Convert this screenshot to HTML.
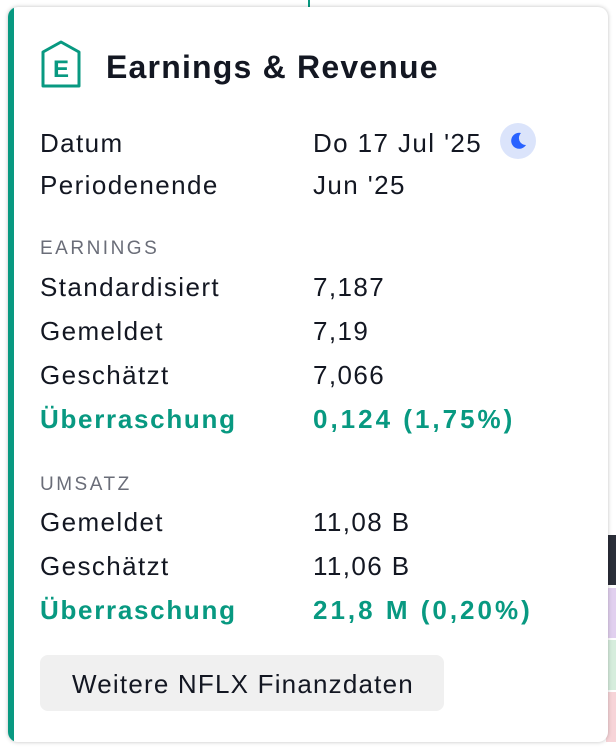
<!DOCTYPE html>
<html><head><style>
body{margin:0;width:616px;height:750px;background:#f0f3fa;position:relative;overflow:hidden;font-family:"Liberation Sans",sans-serif;}
.bg{position:absolute;left:0;top:0;width:616px;height:750px;background:#fff;}
.card{position:absolute;left:8px;top:7px;width:600px;height:735px;background:#fff;border-radius:10px;box-shadow:0 0 4px rgba(0,0,0,.25);overflow:hidden;}
.bar{position:absolute;left:0;top:0;width:6px;height:100%;background:#089981;}
.t{position:absolute;font-size:26px;letter-spacing:1.4px;color:#131722;white-space:nowrap;line-height:28px;}
.g{color:#089981;font-weight:bold;letter-spacing:1.7px;}
.v{letter-spacing:3px;}
.h{position:absolute;font-size:19px;color:#6a6d78;letter-spacing:2.5px;line-height:22px;}
</style></head><body>
<div class="bg"></div>
<div style="position:absolute;left:308px;top:0;width:2px;height:8px;background:#089981"></div>
<div style="position:absolute;left:606px;top:535px;width:10px;height:50px;background:#2a2e39"></div>
<div style="position:absolute;left:606px;top:588px;width:10px;height:50px;background:#e1d0ef"></div>
<div style="position:absolute;left:606px;top:640px;width:10px;height:50px;background:#d6eddd"></div>
<div style="position:absolute;left:606px;top:692px;width:10px;height:50px;background:#f7d4d8"></div>
<div class="card">
<div class="bar"></div>
<svg style="position:absolute;left:32px;top:32px" width="42" height="50" viewBox="0 0 42 50"><path d="M3 13 L21 3 L39 13 L39 47 L3 47 Z" fill="none" stroke="#089981" stroke-width="3" stroke-linejoin="round"/><text x="21" y="38" text-anchor="middle" font-family="Liberation Sans" font-size="24" font-weight="bold" fill="#089981">E</text></svg>
<div class="t" style="left:98px;top:42px;font-size:32px;font-weight:bold;line-height:36px;letter-spacing:1.2px">Earnings &amp; Revenue</div>
<div class="t" style="left:32px;top:122px">Datum</div>
<div class="t" style="left:305px;top:122px">Do 17 Jul '25</div>
<div style="position:absolute;left:492px;top:116px;width:36px;height:36px;border-radius:50%;background:#dbe4fb"></div>
<svg style="position:absolute;left:499px;top:123px" width="22" height="22" viewBox="0 0 22 22"><path d="M14 3 A8 8 0 1 0 19 15 A7 7 0 0 1 14 3Z" fill="#2962ff"/></svg>
<div class="t" style="left:32px;top:164px">Periodenende</div>
<div class="t" style="left:305px;top:164px">Jun '25</div>
<div class="h" style="left:32px;top:231px">EARNINGS</div>
<div class="t" style="left:32px;top:266px">Standardisiert</div><div class="t" style="left:305px;top:266px">7,187</div>
<div class="t" style="left:32px;top:310px">Gemeldet</div><div class="t" style="left:305px;top:310px">7,19</div>
<div class="t" style="left:32px;top:354px">Geschätzt</div><div class="t" style="left:305px;top:354px">7,066</div>
<div class="t g" style="left:32px;top:398px">Überraschung</div><div class="t g v" style="left:305px;top:398px">0,124 (1,75%)</div>
<div class="h" style="left:32px;top:467px">UMSATZ</div>
<div class="t" style="left:32px;top:501px">Gemeldet</div><div class="t" style="left:305px;top:501px">11,08 B</div>
<div class="t" style="left:32px;top:545px">Geschätzt</div><div class="t" style="left:305px;top:545px">11,06 B</div>
<div class="t g" style="left:32px;top:589px">Überraschung</div><div class="t g v" style="left:305px;top:589px">21,8 M (0,20%)</div>
<div style="position:absolute;left:32px;top:648px;width:404px;height:56px;border-radius:8px;background:#f0f0f0"></div>
<div class="t" style="left:64px;top:663px;letter-spacing:1.2px">Weitere NFLX Finanzdaten</div>
</div>
</body></html>
